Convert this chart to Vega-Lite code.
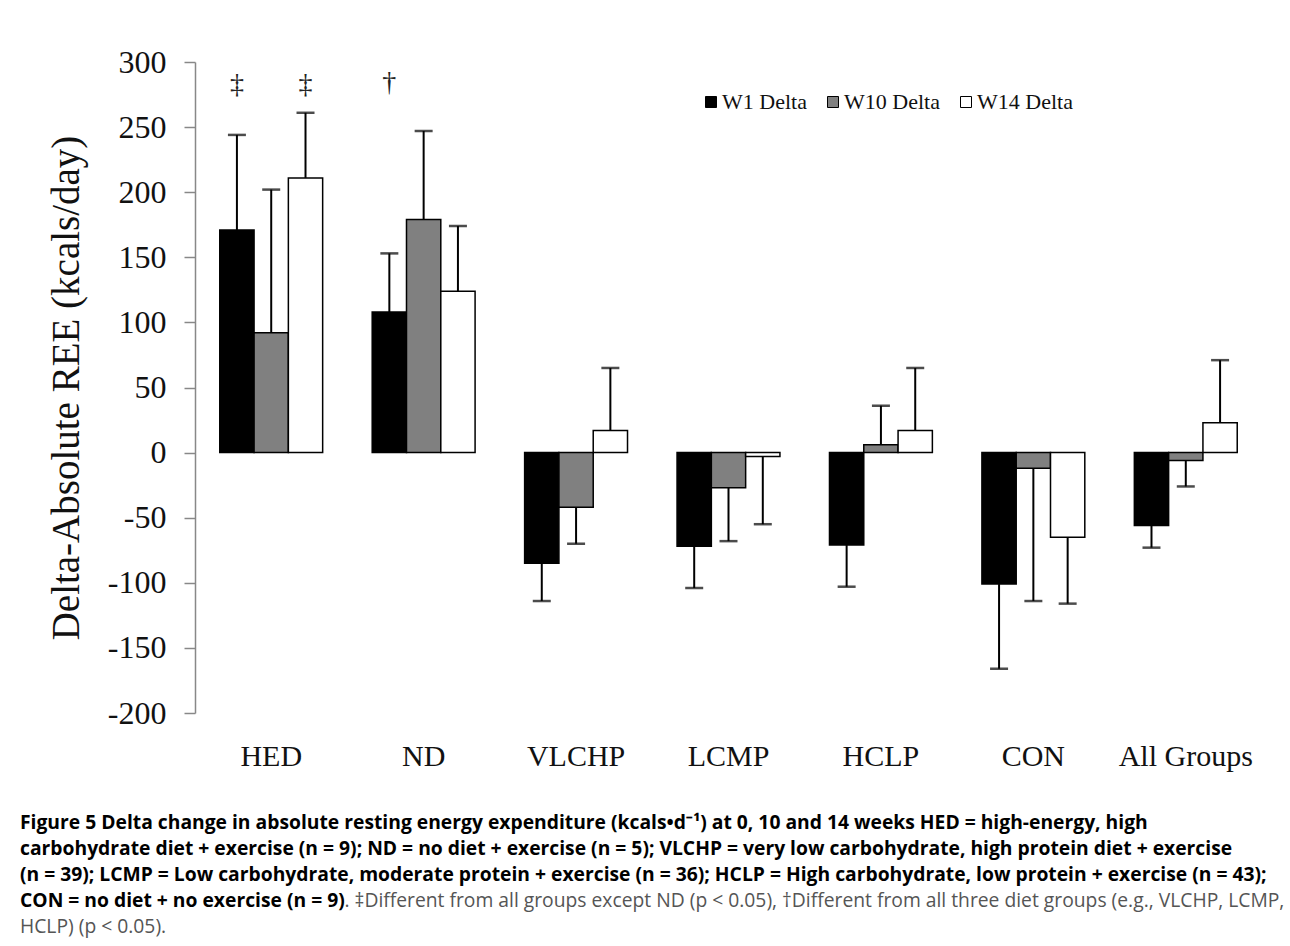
{
  "$schema": "https://vega.github.io/schema/vega-lite/v6.json",
  "width": 1067,
  "height": 651,
  "autosize": {"type": "none"},
  "padding": {"left": 195, "top": 62, "right": 28, "bottom": 233},
  "background": "white",
  "config": {"view": {"stroke": null}},
  "datasets": {
    "main": [
      {"group": "HED", "series": "W1 Delta", "value": 171, "err": 244},
      {"group": "HED", "series": "W10 Delta", "value": 92, "err": 202},
      {"group": "HED", "series": "W14 Delta", "value": 211, "err": 261},
      {"group": "ND", "series": "W1 Delta", "value": 108, "err": 153},
      {"group": "ND", "series": "W10 Delta", "value": 179, "err": 247},
      {"group": "ND", "series": "W14 Delta", "value": 124, "err": 174},
      {"group": "VLCHP", "series": "W1 Delta", "value": -85, "err": -114},
      {"group": "VLCHP", "series": "W10 Delta", "value": -42, "err": -70},
      {"group": "VLCHP", "series": "W14 Delta", "value": 17, "err": 65},
      {"group": "LCMP", "series": "W1 Delta", "value": -72, "err": -104},
      {"group": "LCMP", "series": "W10 Delta", "value": -27, "err": -68},
      {"group": "LCMP", "series": "W14 Delta", "value": -3, "err": -55},
      {"group": "HCLP", "series": "W1 Delta", "value": -71, "err": -103},
      {"group": "HCLP", "series": "W10 Delta", "value": 6, "err": 36},
      {"group": "HCLP", "series": "W14 Delta", "value": 17, "err": 65},
      {"group": "CON", "series": "W1 Delta", "value": -101, "err": -166},
      {"group": "CON", "series": "W10 Delta", "value": -12, "err": -114},
      {"group": "CON", "series": "W14 Delta", "value": -65, "err": -116},
      {"group": "All Groups", "series": "W1 Delta", "value": -56, "err": -73},
      {"group": "All Groups", "series": "W10 Delta", "value": -6, "err": -26},
      {"group": "All Groups", "series": "W14 Delta", "value": 23, "err": 71}
    ],
    "marks": [
      {"group": "HED", "series": "W1 Delta", "value": 282, "symbol": "‡"},
      {"group": "HED", "series": "W14 Delta", "value": 282, "symbol": "‡"},
      {"group": "ND", "series": "W1 Delta", "value": 284, "symbol": "†"}
    ]
  },
  "title": {
    "text": [
      "Figure 5 Delta change in absolute resting energy expenditure (kcals•d⁻¹) at 0, 10 and 14 weeks HED = high-energy, high",
      "carbohydrate diet + exercise (n = 9); ND = no diet + exercise (n = 5); VLCHP = very low carbohydrate, high protein diet + exercise",
      "(n = 39); LCMP = Low carbohydrate, moderate protein + exercise (n = 36); HCLP = High carbohydrate, low protein + exercise (n = 43);",
      "CON = no diet + no exercise (n = 9)"
    ],
    "subtitle": [
      "\u200b\u2003\u2003\u2003\u2003\u2003\u2003\u2003\u2003\u2003\u2003\u2003\u2003\u2003\u2003\u2003\u2003\u2002\u2009\u2009. ‡Different from all groups except ND (p < 0.05), †Different from all three diet groups (e.g., VLCHP, LCMP,",
      "HCLP) (p < 0.05)."
    ],
    "orient": "bottom",
    "anchor": "start",
    "frame": "group",
    "dx": -175,
    "offset": 43,
    "font": "Open Sans",
    "fontSize": 19.3,
    "fontWeight": "bold",
    "color": "#000000",
    "lineHeight": 26,
    "subtitleFont": "Open Sans",
    "subtitleFontSize": 19.3,
    "subtitleFontWeight": "normal",
    "subtitleColor": "#555555",
    "subtitleLineHeight": 26,
    "subtitlePadding": -19
  },
  "layer": [
    {
      "mark": {"type": "rule", "color": "#999999", "strokeWidth": 2},
      "encoding": {"y": {"datum": 0, "type": "quantitative"}}
    },
    {
      "data": {"name": "main"},
      "mark": {"type": "bar", "stroke": "#000000", "strokeWidth": 1.5},
      "encoding": {
        "x": {
          "field": "group", "type": "nominal",
          "scale": {"domain": ["HED", "ND", "VLCHP", "LCMP", "HCLP", "CON", "All Groups"], "paddingInner": 0.325, "paddingOuter": 0.1625},
          "axis": {
            "title": null, "domain": false, "ticks": false, "tickSize": 0, "labelAngle": 0,
            "labelFont": "Liberation Serif", "labelFontSize": 30, "labelColor": "#111111", "labelPadding": 28
          }
        },
        "xOffset": {"field": "series", "type": "nominal", "scale": {"domain": ["W1 Delta", "W10 Delta", "W14 Delta"], "paddingInner": 0, "paddingOuter": 0}},
        "y": {
          "field": "value", "type": "quantitative",
          "scale": {"domain": [-200, 300], "nice": false, "zero": false},
          "axis": {
            "title": "Delta-Absolute REE (kcals/day)",
            "titleFont": "Liberation Serif", "titleFontSize": 39, "titleFontWeight": "normal", "titleColor": "#111111", "titlePadding": 21,
            "values": [-200, -150, -100, -50, 0, 50, 100, 150, 200, 250, 300],
            "labelExpr": "replace(datum.label, '−', '-')",
            "grid": false, "domainColor": "#888888", "domainWidth": 1.5, "tickColor": "#888888", "tickWidth": 1.5, "tickSize": 11,
            "labelFont": "Liberation Serif", "labelFontSize": 32, "labelColor": "#111111", "labelPadding": 18
          }
        },
        "fill": {
          "field": "series", "type": "nominal",
          "scale": {"domain": ["W1 Delta", "W10 Delta", "W14 Delta"], "range": ["#000000", "#808080", "#ffffff"]},
          "legend": {
            "title": null, "orient": "none", "legendX": 505, "legendY": 29, "direction": "horizontal",
            "symbolType": "square", "symbolSize": 121, "symbolStrokeColor": "#000000", "symbolStrokeWidth": 1,
            "labelFont": "Liberation Serif", "labelFontSize": 22, "labelColor": "#111111", "labelOffset": 0, "columnPadding": 15, "padding": 0
          }
        }
      }
    },
    {
      "data": {"name": "main"},
      "mark": {"type": "rule", "color": "#000000", "strokeWidth": 2},
      "encoding": {
        "x": {"field": "group", "type": "nominal"},
        "xOffset": {"field": "series", "type": "nominal"},
        "y": {"field": "value", "type": "quantitative"},
        "y2": {"field": "err"}
      }
    },
    {
      "data": {"name": "main"},
      "mark": {"type": "tick", "color": "#000000", "size": 18, "thickness": 2.5, "orient": "horizontal"},
      "encoding": {
        "x": {"field": "group", "type": "nominal"},
        "xOffset": {"field": "series", "type": "nominal"},
        "y": {"field": "err", "type": "quantitative"}
      }
    },
    {
      "data": {"name": "marks"},
      "mark": {"type": "text", "font": "Liberation Serif", "fontSize": 28, "color": "#222222", "baseline": "middle", "align": "center"},
      "encoding": {
        "x": {"field": "group", "type": "nominal"},
        "xOffset": {"field": "series", "type": "nominal"},
        "y": {"field": "value", "type": "quantitative"},
        "text": {"field": "symbol"}
      }
    }
  ]
}
